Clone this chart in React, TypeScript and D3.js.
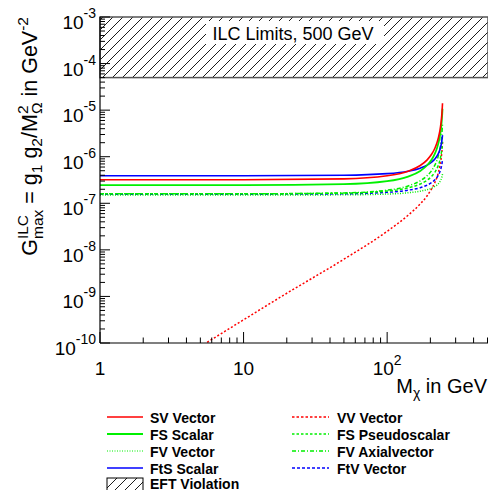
import React from "react";
import * as d3 from "d3";

// ---------- data ----------
const masses = [1, 10, 50, 100, 140, 170, 190, 205, 215, 222, 228, 233, 237, 240, 242, 243];
const svVector = [3.2e-7, 3.21e-7, 3.35e-7, 3.9e-7, 4.9e-7, 6.48e-7, 8.57e-7, 1.156e-6, 1.522e-6, 1.964e-6, 2.619e-6, 3.62e-6, 5.2e-6, 7.64e-6, 1.104e-5, 1.405e-5];
const fsScalar = [2.45e-7, 2.45e-7, 2.57e-7, 2.98e-7, 3.75e-7, 4.96e-7, 6.56e-7, 8.85e-7, 1.165e-6, 1.504e-6, 2.005e-6, 2.77e-6, 3.98e-6, 5.85e-6, 8.45e-6, 1.076e-5];
const fvVector = [1.5e-7, 1.5e-7, 1.52e-7, 1.58e-7, 1.68e-7, 1.82e-7, 1.96e-7, 2.13e-7, 2.3e-7, 2.46e-7, 2.66e-7, 2.91e-7, 3.21e-7, 3.56e-7, 3.94e-7, 4.21e-7];
const ftsScalar = [3.9e-7, 3.9e-7, 4.0e-7, 4.33e-7, 4.89e-7, 5.68e-7, 6.59e-7, 7.72e-7, 8.94e-7, 1.024e-6, 1.193e-6, 1.417e-6, 1.718e-6, 2.108e-6, 2.563e-6, 2.914e-6];
const fsPseudoscalar = [1.6e-7, 1.6e-7, 1.65e-7, 1.83e-7, 2.14e-7, 2.59e-7, 3.13e-7, 3.84e-7, 4.63e-7, 5.51e-7, 6.71e-7, 8.36e-7, 1.071e-6, 1.392e-6, 1.789e-6, 2.109e-6];
const fvAxialvector = [1.6e-7, 1.6e-7, 1.67e-7, 1.91e-7, 2.36e-7, 3.04e-7, 3.92e-7, 5.14e-7, 6.6e-7, 8.33e-7, 1.082e-6, 1.451e-6, 2.02e-6, 2.86e-6, 4.0e-6, 4.97e-6];
const ftvVector = [1.57e-7, 1.57e-7, 1.6e-7, 1.72e-7, 1.91e-7, 2.16e-7, 2.46e-7, 2.81e-7, 3.19e-7, 3.58e-7, 4.08e-7, 4.73e-7, 5.58e-7, 6.64e-7, 7.85e-7, 8.76e-7];
const vvMasses = [5, 6, 10, 20, 50, 100, 140, 170, 190, 205, 215, 222, 228, 233, 237, 240, 242, 243];
const vvVector = [8.4e-11, 1.19e-10, 3.15e-10, 1.17e-9, 6.3e-9, 2.5e-8, 5.54e-8, 9.69e-8, 1.449e-7, 2.1e-7, 2.8e-7, 3.6e-7, 4.7e-7, 6.3e-7, 8.6e-7, 1.2e-6, 1.65e-6, 2.1e-6];

const eftLimitLow = 5e-5;
const eftLimitHigh = 1e-3;
const xDomain = [1, 500];
const yDomain = [1e-10, 1e-3];
const xMajorTicks = [1, 10, 100];
const yExponents = [-3, -4, -5, -6, -7, -8, -9, -10];

const FONT = "'Liberation Sans', Arial, Helvetica, sans-serif";
const RED = "#ff0000";
const GREEN = "#00f000";
const BLUE = "#0000ff";

type Series = { name: string; xs: number[]; ys: number[]; color: string; dash: string; width: number };

const seriesList: Series[] = [
  { name: "VV Vector", xs: vvMasses, ys: vvVector, color: RED, dash: "2,2", width: 1.5 },
  { name: "FV Vector", xs: masses, ys: fvVector, color: GREEN, dash: "1,1.5", width: 1.5 },
  { name: "FtV Vector", xs: masses, ys: ftvVector, color: BLUE, dash: "3,2", width: 1.5 },
  { name: "FS Pseudoscalar", xs: masses, ys: fsPseudoscalar, color: GREEN, dash: "3,2", width: 1.5 },
  { name: "FV Axialvector", xs: masses, ys: fvAxialvector, color: GREEN, dash: "4,2,1,2", width: 1.5 },
  { name: "FtS Scalar", xs: masses, ys: ftsScalar, color: BLUE, dash: "", width: 1.6 },
  { name: "FS Scalar", xs: masses, ys: fsScalar, color: GREEN, dash: "", width: 1.8 },
  { name: "SV Vector", xs: masses, ys: svVector, color: RED, dash: "", width: 1.6 },
];

const legendLeft = [
  { name: "SV Vector", color: RED, dash: "", width: 1.6 },
  { name: "FS Scalar", color: GREEN, dash: "", width: 2 },
  { name: "FV Vector", color: GREEN, dash: "1,1.5", width: 1.2 },
  { name: "FtS Scalar", color: BLUE, dash: "", width: 1.6 },
];
const legendRight = [
  { name: "VV Vector", color: RED, dash: "2.5,2", width: 1.3 },
  { name: "FS Pseudoscalar", color: GREEN, dash: "2.5,2", width: 1.5 },
  { name: "FV Axialvector", color: GREEN, dash: "4,2,1,2", width: 1.3 },
  { name: "FtV Vector", color: BLUE, dash: "3,2", width: 1.3 },
];

export default function App() {
  const W = 488, H = 490;
  const left = 100, right = 487.5, top = 17, bottom = 343;
  const x = d3.scaleLog().domain(xDomain).range([left, right]);
  const y = d3.scaleLog().domain(yDomain).range([bottom, top]);

  const xMinor: number[] = [];
  for (const d of [1, 10, 100]) for (let k = 2; k <= 9; k++) if (d * k <= 500) xMinor.push(d * k);
  const yMinor: number[] = [];
  for (let e = -10; e < -3; e++) for (let k = 2; k <= 9; k++) yMinor.push(k * Math.pow(10, e));

  const line = d3.line<[number, number]>().x((d) => x(d[0])).y((d) => y(d[1])).curve(d3.curveMonotoneX);

  const rowsY = [417, 434, 451, 468];

  return (
    <svg width={W} height={H} style={{ position: "absolute", left: 0, top: 0, background: "#fff" }} fontFamily={FONT}>
      <defs>
        <pattern id="hatch" patternUnits="userSpaceOnUse" width="10" height="10">
          <path d="M-1,1 l2,-2 M0,10 l10,-10 M9,11 l2,-2" stroke="#000" strokeWidth="0.9" />
        </pattern>
        <pattern id="hatchLeg" patternUnits="userSpaceOnUse" width="10" height="10" x="107" y="478">
          <path d="M-1,1 l2,-2 M0,10 l10,-10 M9,11 l2,-2" stroke="#000" strokeWidth="0.9" />
        </pattern>
        <clipPath id="plotClip">
          <rect x={left} y={top} width={W - left} height={bottom - top} />
        </clipPath>
      </defs>

      {/* EFT violation band */}
      <rect x={x(xDomain[0])} y={y(eftLimitHigh)} width={W - left} height={y(eftLimitLow) - y(eftLimitHigh)} fill="url(#hatch)" stroke="#555" strokeWidth={1.5} />
      <rect x={206} y={21} width={178} height={23} fill="#fff" />
      <text x={293} y={39.5} textAnchor="middle" fontSize={18} fill="#000">ILC Limits, 500 GeV</text>

      {/* curves */}
      <g clipPath="url(#plotClip)">
        {seriesList.map((s) => (
          <path key={s.name} d={line(s.xs.map((m, i) => [m, s.ys[i]] as [number, number])) || ""} fill="none" stroke={s.color} strokeWidth={s.width} strokeDasharray={s.dash || undefined} />
        ))}
      </g>

      {/* axes */}
      <line x1={left} y1={top} x2={left} y2={bottom} stroke="#000" strokeWidth={1.2} />
      <line x1={left} y1={bottom} x2={W} y2={bottom} stroke="#000" strokeWidth={1.2} />
      {xMajorTicks.map((t) => (
        <line key={"xM" + t} x1={x(t)} x2={x(t)} y1={bottom} y2={bottom - 11} stroke="#000" />
      ))}
      {xMinor.map((t) => (
        <line key={"xm" + t} x1={x(t)} x2={x(t)} y1={bottom} y2={bottom - 5.5} stroke="#000" />
      ))}
      {yExponents.map((e) => (
        <line key={"yM" + e} x1={left} x2={left + 10} y1={y(Math.pow(10, e))} y2={y(Math.pow(10, e))} stroke="#000" />
      ))}
      {yMinor.map((t, i) => (
        <line key={"ym" + i} x1={left} x2={left + 5} y1={y(t)} y2={y(t)} stroke="#000" />
      ))}

      {/* y tick labels */}
      {yExponents.map((e) => (
        <text key={"yl" + e} x={96} y={y(Math.pow(10, e)) + 12} textAnchor="end" fontSize={19} fill="#000">
          10<tspan dy={-11} fontSize={14}>{String(e)}</tspan>
        </text>
      ))}
      {/* x tick labels */}
      <text x={x(1)} y={375} textAnchor="middle" fontSize={19}>1</text>
      <text x={x(10)} y={375} textAnchor="middle" fontSize={19}>10</text>
      <text x={x(100)} y={375} textAnchor="middle" fontSize={19}>
        10<tspan dy={-10} fontSize={14}>2</tspan>
      </text>

      {/* x title */}
      <text x={487} y={393} textAnchor="end" fontSize={20}>
        M<tspan dy={5} fontSize={14}>χ</tspan><tspan dy={-5}> in GeV</tspan>
      </text>

      {/* y title */}
      <g transform={`translate(37,17) rotate(-90)`}>
        <text textAnchor="end" fontSize={21.5}>
          G<tspan dy={-9} fontSize={15.5}>ILC</tspan>
          <tspan dx={-24} dy={15} fontSize={15.5}>max</tspan>
          <tspan dy={-6}> = g</tspan>
          <tspan dy={5} fontSize={15.5}>1</tspan>
          <tspan dy={-5}> g</tspan>
          <tspan dy={5} fontSize={15.5}>2</tspan>
          <tspan dy={-5}>/M</tspan>
          <tspan dy={-9} fontSize={15.5}>2</tspan>
          <tspan dx={-8.6} dy={14} fontSize={15.5}>Ω</tspan>
          <tspan dy={-5}> in GeV</tspan>
          <tspan dy={-9} fontSize={15.5}>-2</tspan>
        </text>
      </g>

      {/* legend */}
      {legendLeft.map((l, i) => (
        <g key={l.name}>
          <line x1={107} x2={143} y1={rowsY[i]} y2={rowsY[i]} stroke={l.color} strokeWidth={l.width} strokeDasharray={l.dash || undefined} />
          <text x={150} y={rowsY[i] + 6} fontSize={14} fontWeight="bold">{l.name}</text>
        </g>
      ))}
      {legendRight.map((l, i) => (
        <g key={l.name}>
          <line x1={292} x2={329} y1={rowsY[i]} y2={rowsY[i]} stroke={l.color} strokeWidth={l.width} strokeDasharray={l.dash || undefined} />
          <text x={337} y={rowsY[i] + 6} fontSize={14} fontWeight="bold">{l.name}</text>
        </g>
      ))}
      <rect x={107} y={478} width={36} height={14} fill="url(#hatchLeg)" stroke="#000" strokeWidth={1} />
      <text x={150} y={488.5} fontSize={14} fontWeight="bold">EFT Violation</text>
    </svg>
  );
}
